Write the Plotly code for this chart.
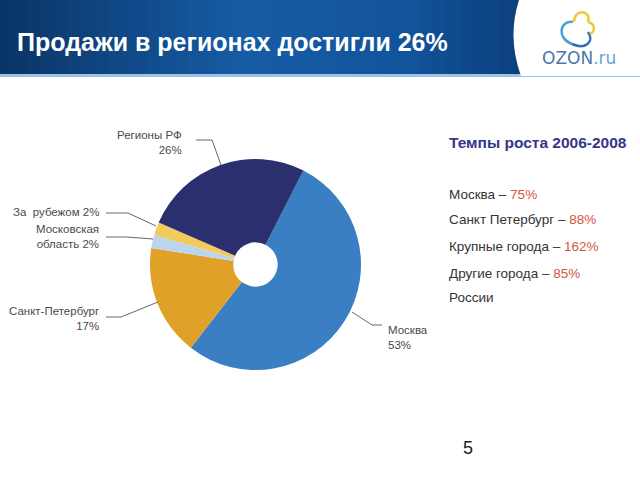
import plotly.graph_objects as go

# ---- data ----
slice_labels = ["Москва", "Санкт-Петербург", "Московская область", "За рубежом", "Регионы РФ"]
slice_values = [53, 17, 2, 2, 26]
slice_colors = ["#3a7ec3", "#e0a128", "#bcd5ee", "#f1cb5c", "#2c2f6d"]

growth_labels = ["Москва", "Санкт Петербург", "Крупные города", "Другие города"]
growth_values = ["75%", "88%", "162%", "85%"]

W, H = 640, 480
def px(x): return x / W
def py(y): return 1 - y / H

cx, cy, r = 255.5, 264.5, 105.5
fig = go.Figure()
fig.add_trace(go.Pie(
    labels=slice_labels, values=slice_values, sort=False, direction="clockwise",
    rotation=27, hole=0.21, textinfo="none", hoverinfo="label+percent",
    marker=dict(colors=slice_colors, line=dict(color="white", width=0)),
    domain=dict(x=[px(cx - r), px(cx + r)], y=[py(cy + r), py(cy - r)]),
    showlegend=False,
))

shapes = []
# header gradient band
def lerp(c1, c2, t):
    return tuple(int(round(a + (b - a) * t)) for a, b in zip(c1, c2))
stops = [(0, (10, 52, 102)), (0.45, (22, 92, 165)), (0.75, (18, 84, 155)), (1.0, (10, 60, 120))]
N = 40
for i in range(N):
    x0 = 540 * i / N
    x1 = 540 * (i + 1) / N + 1
    t = (i + 0.5) / N
    for k in range(len(stops) - 1):
        if stops[k][0] <= t <= stops[k + 1][0]:
            tt = (t - stops[k][0]) / (stops[k + 1][0] - stops[k][0])
            c = lerp(stops[k][1], stops[k + 1][1], tt)
            break
    shapes.append(dict(type="rect", xref="paper", yref="paper", x0=px(x0), x1=px(x1),
                       y0=py(75), y1=py(0), fillcolor="rgb(%d,%d,%d)" % c, line=dict(width=0), layer="below"))
# thin light line under band
shapes.append(dict(type="rect", xref="paper", yref="paper", x0=0, x1=1, y0=py(77), y1=py(74),
                   fillcolor="#9cc3e6", line=dict(width=0)))
# white curved area on right
shapes.append(dict(type="path", xref="paper", yref="paper",
                   path="M %f,%f Q %f,%f %f,%f L 1,%f L 1,%f Z" % (
                       px(519), py(0), px(507), py(38), px(521), py(76), py(76), py(0)),
                   fillcolor="white", line=dict(width=0)))
# logo cloud (approximate arcs)
shapes.append(dict(type="path", xref="paper", yref="paper",
                   path="M %f,%f C %f,%f %f,%f %f,%f" % (px(573), py(22), px(560), py(20), px(556), py(38), px(572), py(44)),
                   line=dict(color="#4a9fd8", width=2.5)))
shapes.append(dict(type="path", xref="paper", yref="paper",
                   path="M %f,%f C %f,%f %f,%f %f,%f" % (px(572), py(44), px(585), py(50), px(595), py(42), px(588), py(32)),
                   line=dict(color="#2d6fb0", width=2.5)))
shapes.append(dict(type="path", xref="paper", yref="paper",
                   path="M %f,%f C %f,%f %f,%f %f,%f" % (px(574), py(22), px(574), py(8), px(592), py(10), px(588), py(22)),
                   line=dict(color="#f0c93a", width=2.5)))
shapes.append(dict(type="path", xref="paper", yref="paper",
                   path="M %f,%f C %f,%f %f,%f %f,%f" % (px(588), py(22), px(596), py(24), px(595), py(32), px(590), py(34)),
                   line=dict(color="#f0c93a", width=2.5)))

# leader lines
def leader(points):
    d = "M %f,%f" % (px(points[0][0]), py(points[0][1]))
    for (x, y) in points[1:]:
        d += " L %f,%f" % (px(x), py(y))
    shapes.append(dict(type="path", xref="paper", yref="paper", path=d,
                       line=dict(color="#666666", width=1)))
leader([(196, 140), (212, 140), (221, 165)])
leader([(106, 213), (128, 213), (156, 226)])
leader([(106, 237), (127, 237), (153, 239)])
leader([(106, 317), (121, 317), (158, 302)])
leader([(352, 312), (372, 325), (382, 325)])

ann = []
lab_font = dict(family="Liberation Sans, Arial, sans-serif", size=11.5, color="#4a4a4a")
def label(x, y, text, anchor="right"):
    ann.append(dict(xref="paper", yref="paper", x=px(x), y=py(y), text=text, showarrow=False,
                    xanchor=anchor, yanchor="middle", align=anchor, font=lab_font))
label(184, 143, "%s<br>%d%%" % (slice_labels[4], slice_values[4]))
label(101, 212, "За  рубежом %d%%" % slice_values[3])
label(101, 236, "Московская<br>область %d%%" % slice_values[2])
label(101, 318, "%s<br>%d%%" % (slice_labels[1], slice_values[1]))
label(386, 337, "%s<br>%d%%" % (slice_labels[0], slice_values[0]), anchor="left")

# title
ann.append(dict(xref="paper", yref="paper", x=px(15), y=py(42), text="<b>Продажи в регионах достигли 26%</b>",
                showarrow=False, xanchor="left", yanchor="middle",
                font=dict(family="Liberation Sans, Arial, sans-serif", size=25, color="white")))
# logo text
ann.append(dict(xref="paper", yref="paper", x=px(579), y=py(58),
                text="<span style='color:#4a78ad'>OZON</span><span style='color:#6aa3d6'>.ru</span>",
                showarrow=False, xanchor="center", yanchor="middle",
                font=dict(family="DejaVu Sans, sans-serif", size=17, color="#4a78ad")))

# right text block
ann.append(dict(xref="paper", yref="paper", x=px(447), y=py(143), text="<b>Темпы роста 2006-2008</b>",
                showarrow=False, xanchor="left", yanchor="middle",
                font=dict(family="Liberation Sans, Arial, sans-serif", size=15.5, color="#34368a")))
ys = [194, 219, 247, 273]
for lbl, val, y in zip(growth_labels, growth_values, ys):
    ann.append(dict(xref="paper", yref="paper", x=px(447), y=py(y),
                    text="%s – <span style='color:#d4553c'>%s</span>" % (lbl, val),
                    showarrow=False, xanchor="left", yanchor="middle",
                    font=dict(family="Liberation Sans, Arial, sans-serif", size=13.5, color="#333333")))
ann.append(dict(xref="paper", yref="paper", x=px(447), y=py(297), text="России",
                showarrow=False, xanchor="left", yanchor="middle",
                font=dict(family="Liberation Sans, Arial, sans-serif", size=13.5, color="#333333")))
# page number
ann.append(dict(xref="paper", yref="paper", x=px(468), y=py(448), text="5",
                showarrow=False, xanchor="center", yanchor="middle",
                font=dict(family="Liberation Sans, Arial, sans-serif", size=18, color="#222222")))

fig.update_layout(width=W, height=H, margin=dict(l=0, r=0, t=0, b=0),
                  paper_bgcolor="white", plot_bgcolor="white",
                  shapes=shapes, annotations=ann)
fig.write_html("out.html", config={"displayModeBar": False},
               post_script="document.body.style.margin='0';document.body.style.overflow='hidden';")
